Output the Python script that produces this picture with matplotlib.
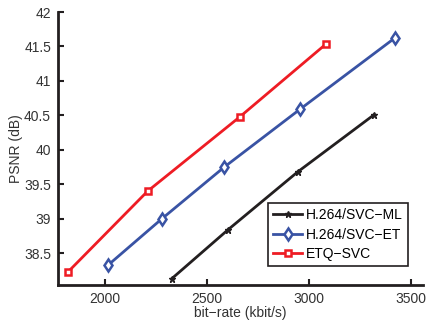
import matplotlib
matplotlib.use("Agg")
import matplotlib.pyplot as plt

plt.rcParams['font.family'] = ['Liberation Sans', 'DejaVu Sans']

ml_x = [2327, 2603, 2945, 3320]
ml_y = [38.13, 38.84, 39.68, 40.51]
et_x = [2016, 2279, 2585, 2957, 3425]
et_y = [38.33, 39.00, 39.75, 40.59, 41.63]
etq_x = [1819, 2209, 2662, 3082]
etq_y = [38.23, 39.40, 40.48, 41.53]
labels = ['H.264/SVC\u2212ML', 'H.264/SVC\u2212ET', 'ETQ\u2212SVC']
xticks = [2000, 2500, 3000, 3500]
yticks = [38.5, 39, 39.5, 40, 40.5, 41, 41.5, 42]

fig = plt.figure(figsize=(4.27, 3.21), dpi=100)
ax = fig.add_axes([0.1358, 0.112, 0.8548, 0.8506])

ax.plot(ml_x, ml_y, color='#231f20', lw=2, marker='*', ms=5, mew=1, label=labels[0])
ax.plot(et_x, et_y, color='#3953a4', lw=2, marker='d', ms=6, mfc='white', mew=1.8, label=labels[1])
ax.plot(etq_x, etq_y, color='#ee1c24', lw=2, marker='s', ms=5, mfc='white', mew=1.8, label=labels[2])

ax.set_xlim(1770, 3560)
ax.set_ylim(38.04, 42)
ax.set_xticks(xticks)
ax.set_xticklabels([str(t) for t in xticks])
ax.set_yticks(yticks)
ax.set_yticklabels([('%g' % t) for t in yticks])
for s in ['top', 'right']:
    ax.spines[s].set_visible(False)
for s in ['left', 'bottom']:
    ax.spines[s].set_linewidth(2)
    ax.spines[s].set_color('#231f20')
ax.tick_params(direction='in', length=4, width=1.5, labelsize=10, colors='#231f20', labelcolor='#333333', pad=5)
ax.set_xlabel('bit\u2212rate (kbit/s)', fontsize=10, color='#333333', labelpad=0)
ax.set_ylabel('PSNR (dB)', fontsize=10, color='#333333', labelpad=1)

leg = ax.legend(loc='upper right', bbox_to_anchor=(0.959, 0.30), fontsize=10, frameon=True, fancybox=False,
                edgecolor='#231f20', framealpha=1, numpoints=1, handlelength=2.1, borderpad=0.35,
                labelspacing=0.4, handletextpad=0.3, borderaxespad=0)
leg.get_frame().set_linewidth(1.2)

fig.savefig('out.png', dpi=100)
